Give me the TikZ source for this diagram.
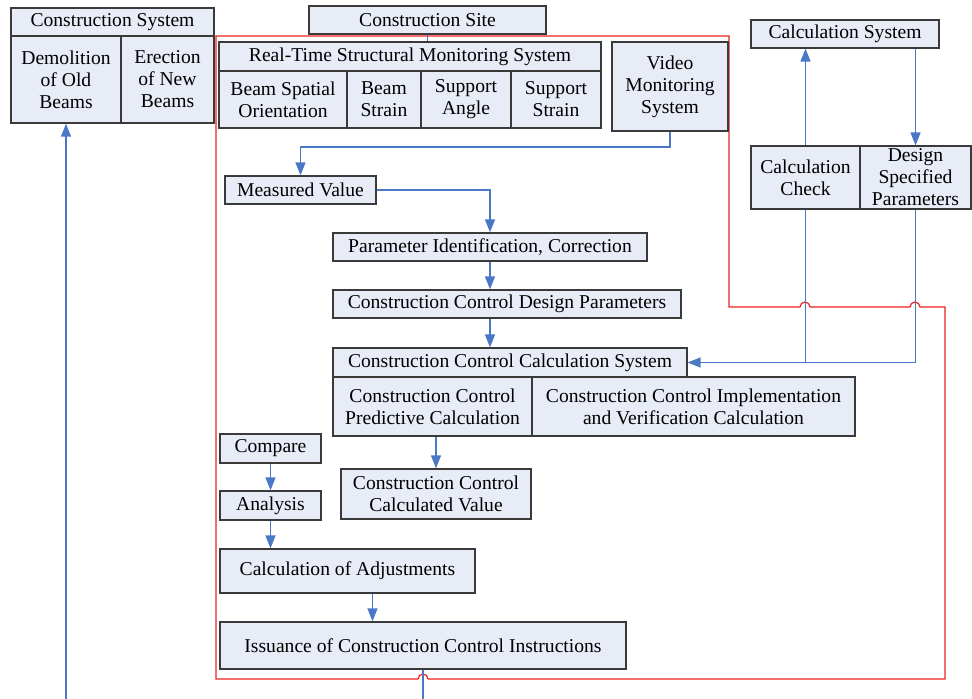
\documentclass[tikz,border=0pt]{standalone}
\usepackage{fontspec}
\setmainfont{Liberation Serif}
\usetikzlibrary{arrows.meta,calc}
\definecolor{boxfill}{HTML}{E7ECF6}
\definecolor{boxline}{HTML}{3A3A3A}
\definecolor{arrblue}{HTML}{4A78C6}
\definecolor{redline}{HTML}{F02020}
\tikzset{
  box/.style={draw=boxline, fill=boxfill, line width=0.6pt, inner sep=0pt, align=center,
    font=\fontsize{9.8}{11}\selectfont},
  conn/.style={draw=arrblue, line width=0.65pt},
  arr/.style={conn, -{Triangle[length=6.5pt,width=5pt]}},
  frame/.style={draw=redline, line width=0.6pt}
}
\newcommand\mybox[6]{\node[box, minimum width={(#4-#2)*0.5pt}, minimum height={(#5-#3)*0.5pt}] (#1) at ({(#2+#4)/2},{(#3+#5)/2}) {#6};}
\begin{document}
\begin{tikzpicture}[x=0.5pt,y=-0.5pt]
\useasboundingbox (0,0) rectangle (972,699);
% red frame
\draw[frame] (216,36) -- (729,36) -- (729,307) -- (800,307)
  arc[start angle=180,end angle=0,radius=2.5pt] -- (910,307)
  arc[start angle=180,end angle=0,radius=2.5pt] -- (945,307) -- (945,679) -- (428,679)
  arc[start angle=0,end angle=180,radius=2.5pt] -- (216,679) -- cycle;
% Construction System
\mybox{csys}{11}{8}{214}{36}{Construction System}
\mybox{demo}{11}{36}{121}{123}{Demolition\\of Old\\Beams}
\mybox{erect}{121}{36}{214}{123}{Erection\\of New\\Beams}
% Construction site
\mybox{site}{309}{6}{546}{34}{Construction Site}
% Real-time monitoring
\mybox{rt}{219}{42}{601}{71}{Real-Time Structural Monitoring System}
\mybox{bso}{219}{71}{347}{128}{Beam Spatial\\Orientation}
\mybox{bs}{347}{71}{421}{128}{Beam\\Strain}
\mybox{sa}{421}{71}{511}{128}{Support\\Angle}
\mybox{ss}{511}{71}{601}{128}{Support\\Strain}
\mybox{video}{612}{42}{728}{131}{Video\\Monitoring\\System}
% calculation system
\mybox{calcsys}{751}{20}{939}{48}{Calculation System}
\mybox{cc}{751}{146}{860}{209}{Calculation\\Check}
\mybox{dsp}{860}{146}{971}{209}{Design\\Specified\\Parameters}
% main chain
\mybox{mv}{225}{176}{376}{204}{Measured Value}
\mybox{pic}{333}{233}{647}{261}{Parameter Identification, Correction}
\mybox{ccdp}{333}{290}{681}{318}{Construction Control Design Parameters}
\mybox{cccs}{333}{348}{687}{377}{Construction Control Calculation System}
\mybox{pred}{333}{377}{532}{436}{Construction Control\\Predictive Calculation}
\mybox{impl}{532}{377}{855}{436}{Construction Control Implementation\\and Verification Calculation}
\mybox{cccv}{341}{469}{531}{519}{Construction Control\\Calculated Value}
\mybox{cmp}{220}{434}{321}{463}{Compare}
\mybox{ana}{220}{491}{321}{520}{Analysis}
\mybox{coa}{220}{549}{475}{593}{Calculation of Adjustments}
\mybox{iss}{220}{622}{626}{669}{Issuance of Construction Control Instructions}
\coordinate (bl) at (66,699);
\coordinate (bm) at (423,699);
% connectors
\draw[conn] (site.south) -- (site.south |- rt.north);
\draw[arr] (video.south) -- (video.south |- 0,147) -| (mv.north);
\draw[arr] (mv.east) -| (pic.north);
\draw[arr] (pic.south) -- (pic.south |- ccdp.north);
\draw[arr] (pic.south |- ccdp.south) -- (pic.south |- cccs.north);
\draw[arr] (cc.north) -- (cc.north |- calcsys.south);
\draw[arr] (dsp.north |- calcsys.south) -- (dsp.north);
\draw[conn] (dsp.south) |- (cccs.east);
\draw[arr] (cc.south) |- (cccs.east);
\draw[arr] (cccv.north |- pred.south) -- (cccv.north);
\draw[arr] (cmp.south) -- (ana.north);
\draw[arr] (ana.south) -- (ana.south |- coa.north);
\draw[arr] ([xshift=12.5pt]coa.south) -- ([xshift=12.5pt]coa.south |- iss.north);
\draw[conn] (iss.south) -- (bm);
\draw[arr] (bl) -- (demo.south);
\end{tikzpicture}
\end{document}
